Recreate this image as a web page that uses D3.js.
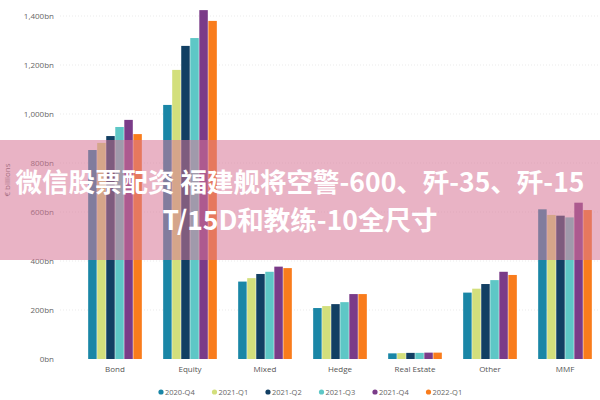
<!DOCTYPE html>
<html>
<head>
<meta charset="utf-8">
<script src="https://cdn.jsdelivr.net/npm/d3@7"></script>
<style>
  body { margin: 0; background: #fff; }
  svg { display: block; }
</style>
</head>
<body>
<svg width="600" height="400" viewBox="0 0 600 400"></svg>
<script>
// Data
const categories = ["Bond", "Equity", "Mixed", "Hedge", "Real Estate", "Other", "MMF"];
const quarters = ["2020-Q4", "2021-Q1", "2021-Q2", "2021-Q3", "2021-Q4", "2022-Q1"];
const q2020Q4 = [853, 1037, 316, 208, 23, 271, 611];
const q2021Q1 = [882, 1180, 330, 216, 24, 287, 588];
const q2021Q2 = [910, 1278, 347, 224, 25, 306, 585];
const q2021Q3 = [947, 1310, 356, 232, 25, 322, 578];
const q2021Q4 = [976, 1424, 377, 265, 26, 356, 638];
const q2022Q1 = [918, 1380, 371, 265, 26, 343, 608];
const yTicks = [0, 200, 400, 600, 800, 1000, 1200, 1400];
const bannerLines = ["微信股票配资 福建舰将空警-600、歼-35、歼-15", "T/15D和教练-10全尺寸"];

const series = [q2020Q4, q2021Q1, q2021Q2, q2021Q3, q2021Q4, q2022Q1];
const colors = ["#1a86a6", "#d3df7c", "#123f63", "#5ec7c6", "#7a3b88", "#f97c1c"];

const svg = d3.select("svg");
const font = "'Open Sans', 'DejaVu Sans', sans-serif";

const x = d3.scaleBand().domain(categories).range([77.5, 602.5]).paddingInner(0.27).paddingOuter(0.135);
const xInner = d3.scaleBand().domain(quarters).range([0, x.bandwidth()]).padding(0.06);
const y = d3.scaleLinear().domain([0, 1400]).range([359, 16]);

// Gridlines
svg.append("g")
    .selectAll("line")
    .data(yTicks.slice(1))
    .enter()
    .append("line")
    .attr("x1", 60).attr("x2", 600)
    .attr("y1", d => y(d)).attr("y2", d => y(d))
    .attr("stroke", "#e6e6e6")
    .attr("stroke-width", 0.8)
    .attr("stroke-dasharray", "1,2");

// Y axis
const yAxis = svg.append("g")
    .attr("transform", "translate(54,0)")
    .call(d3.axisLeft(y).tickValues(yTicks).tickSize(0).tickPadding(0)
        .tickFormat(d => d3.format(",")(d) + "bn"));
yAxis.select(".domain").remove();
yAxis.selectAll("text")
    .attr("fill", "#666")
    .style("font-family", font)
    .style("font-size", "8px");

svg.append("text")
    .attr("transform", "translate(10,180) rotate(-90)")
    .attr("text-anchor", "middle")
    .attr("fill", "#666")
    .style("font-family", font)
    .style("font-size", "8px")
    .text("€ billions");

// Bars
const groups = svg.append("g")
    .selectAll("g")
    .data(categories)
    .enter()
    .append("g")
    .attr("transform", d => `translate(${x(d)},0)`);

groups.selectAll("rect")
    .data((c, i) => quarters.map((q, j) => ({ q: q, v: series[j][i], color: colors[j] })))
    .enter()
    .append("rect")
    .attr("x", d => xInner(d.q))
    .attr("width", xInner.bandwidth())
    .attr("y", d => y(d.v))
    .attr("height", d => y(0) - y(d.v))
    .attr("fill", d => d.color);

// X axis
const xAxis = svg.append("g")
    .attr("transform", "translate(0,363)")
    .call(d3.axisBottom(x).tickSize(0).tickPadding(3));
xAxis.select(".domain").remove();
xAxis.selectAll("text")
    .attr("fill", "#555")
    .style("font-family", font)
    .style("font-size", "8px");

// Legend
const legend = svg.append("g")
    .selectAll("g")
    .data(quarters)
    .enter()
    .append("g")
    .attr("transform", (d, i) => `translate(${161 + i * 53.5},392)`);

legend.append("circle")
    .attr("r", 2.6)
    .attr("fill", (d, i) => colors[i]);

legend.append("text")
    .attr("x", 4)
    .attr("y", 2.8)
    .attr("fill", "#666")
    .style("font-family", font)
    .style("font-size", "7.5px")
    .text(d => d);

// Banner overlay
svg.append("rect")
    .attr("x", 0).attr("y", 140)
    .attr("width", 600).attr("height", 120)
    .attr("fill", "rgb(215,116,149)")
    .attr("fill-opacity", 0.55);

svg.append("g")
    .selectAll("text")
    .data(bannerLines)
    .enter()
    .append("text")
    .attr("x", 300)
    .attr("y", (d, i) => 192 + i * 38)
    .attr("text-anchor", "middle")
    .attr("fill", "#fff")
    .style("font-family", "'Noto Sans CJK SC', sans-serif")
    .style("font-weight", "bold")
    .style("font-size", "26.5px")
    .text(d => d);
</script>
</body>
</html>
